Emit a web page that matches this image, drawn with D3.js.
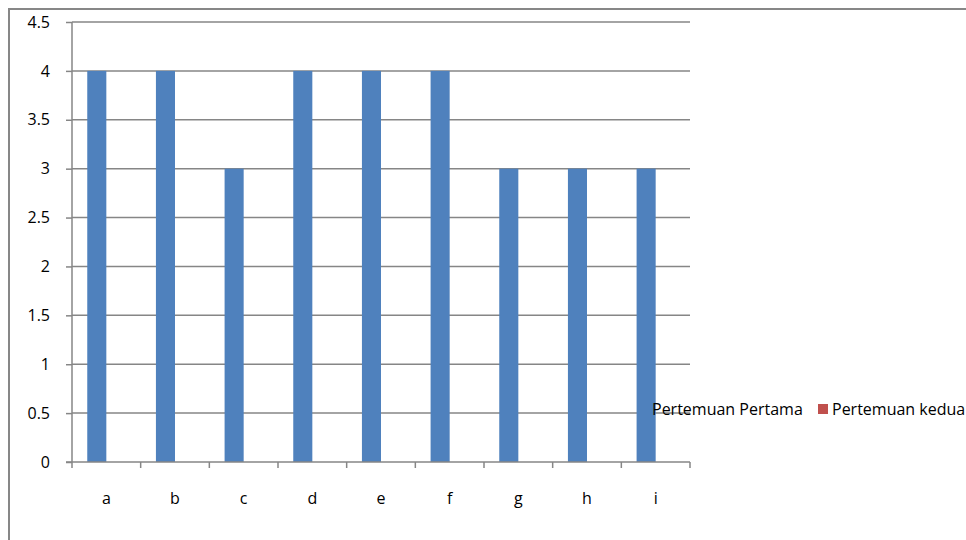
<!DOCTYPE html>
<html>
<head>
<meta charset="utf-8">
<script src="https://cdn.jsdelivr.net/npm/d3@7/dist/d3.min.js"></script>
<style>
  html, body { margin: 0; padding: 0; background: #fff; }
  svg { display: block; font-family: "Open Sans", "Liberation Sans", sans-serif; }
</style>
</head>
<body>
<svg id="chart" width="966" height="540"></svg>
<script>
// Scores per item, two meetings
const categories = ["a", "b", "c", "d", "e", "f", "g", "h", "i"];
const seriesNames = ["Pertemuan Pertama", "Pertemuan kedua"];
const pertemuanPertama = [4, 4, 3, 4, 4, 4, 3, 3, 3];
const pertemuanKedua = [0, 0, 0, 0, 0, 0, 0, 0, 0];
const yTicks = [0, 0.5, 1, 1.5, 2, 2.5, 3, 3.5, 4, 4.5];
const colors = ["#4F81BD", "#C0504D"];

const svg = d3.select("#chart");
const W = 966, H = 540;

// Chart-area frame
svg.append("rect")
  .attr("x", 9).attr("y", 9)
  .attr("width", W + 20).attr("height", H + 20)
  .attr("fill", "#fff").attr("stroke", "#878787").attr("stroke-width", 2);

const plot = { left: 72, right: 690, top: 22, bottom: 462 };

const x = d3.scaleBand().domain(categories).range([plot.left, plot.right]).paddingInner(0).paddingOuter(0);
const inner = d3.scaleBand().domain(seriesNames).range([0, x.bandwidth()]).paddingInner(0).paddingOuter(0.8);
const y = d3.scaleLinear().domain([0, 4.5]).range([plot.bottom, plot.top]);

// Horizontal gridlines
svg.append("g").selectAll("line").data(yTicks.filter(t => t > 0)).join("line")
  .attr("x1", plot.left).attr("x2", plot.right)
  .attr("y1", d => y(d)).attr("y2", d => y(d))
  .attr("stroke", "#868686").attr("stroke-width", 1.5);

// Bars
const seriesData = [pertemuanPertama, pertemuanKedua];
seriesData.forEach((vals, si) => {
  svg.append("g").selectAll("rect").data(vals).join("rect")
    .attr("x", (d, i) => x(categories[i]) + inner(seriesNames[si]))
    .attr("y", d => y(d))
    .attr("width", inner.bandwidth())
    .attr("height", d => y(0) - y(d))
    .attr("fill", colors[si]);
});

// Y axis
const yAxis = d3.axisLeft(y).tickValues(yTicks).tickSize(6).tickPadding(16)
  .tickFormat(d => d3.format("")(d));
const gy = svg.append("g").attr("transform", `translate(${plot.left},0)`).call(yAxis);
gy.select(".domain").attr("stroke", "#868686").attr("stroke-width", 1.5)
  .attr("d", `M0,${plot.top}V${plot.bottom}`);
gy.selectAll(".tick line").attr("stroke", "#868686").attr("stroke-width", 1.5);
gy.selectAll(".tick text").attr("fill", "#000").style("font-size", "16px")
  .style("font-family", "'Open Sans', sans-serif");

// X axis: ticks at category boundaries
const gx = svg.append("g").attr("transform", `translate(0,${plot.bottom})`);
gx.append("line").attr("x1", plot.left - 6).attr("x2", plot.right)
  .attr("stroke", "#868686").attr("stroke-width", 1.5);
const bounds = categories.map(c => x(c)).concat([plot.right]);
gx.selectAll("line.tk").data(bounds).join("line").attr("class", "tk")
  .attr("x1", d => d).attr("x2", d => d).attr("y1", 0).attr("y2", 6)
  .attr("stroke", "#868686").attr("stroke-width", 1.5);
gx.selectAll("text").data(categories).join("text")
  .attr("x", d => x(d) + x.bandwidth() / 2).attr("y", 42)
  .attr("text-anchor", "middle").attr("fill", "#000").style("font-size", "16px")
  .text(d => d);

// Legend
const legend = svg.append("g").attr("transform", "translate(0,409)");
const items = [{ name: seriesNames[0], x: 638 }, { name: seriesNames[1], x: 818 }];
items.forEach((it, i) => {
  legend.append("rect").attr("x", it.x).attr("y", -5).attr("width", 10).attr("height", 10)
    .attr("fill", colors[i]);
  legend.append("text").attr("x", it.x + 14).attr("y", 0).attr("dy", "0.35em")
    .attr("fill", "#000").style("font-size", "16px").text(it.name);
});
</script>
</body>
</html>
